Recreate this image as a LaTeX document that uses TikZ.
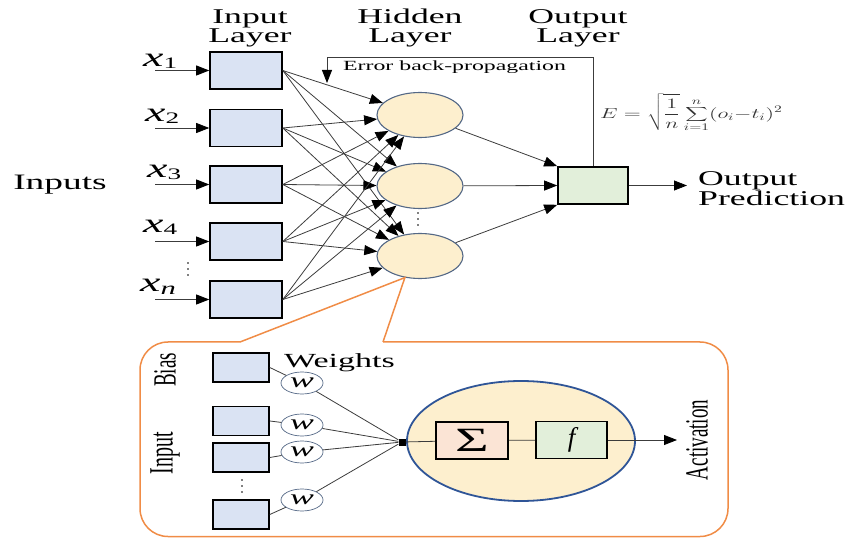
\documentclass[tikz,border=0pt]{standalone}
\usepackage{fontspec}
\usepackage{graphicx}
\setmainfont{Liberation Serif}[FakeStretch=1.7]
\newfontfamily\narrowserif{Liberation Serif}
\usetikzlibrary{arrows.meta,shapes.geometric,calc}

\definecolor{inblue}{RGB}{218,227,243}
\definecolor{hidfill}{RGB}{253,239,206}
\definecolor{hidedge}{RGB}{84,104,134}
\definecolor{outgreen}{RGB}{226,239,218}
\definecolor{sigfill}{RGB}{251,228,213}
\definecolor{bigedge}{RGB}{47,85,151}
\definecolor{calloutorange}{RGB}{240,140,70}
\definecolor{linkgray}{RGB}{60,60,60}

\newcommand{\fs}[1]{\fontsize{#1}{#1}\selectfont}
\newcommand{\rottext}[2]{\scalebox{1}[1.7]{\narrowserif\fs{#1}#2}}

\begin{document}
\begin{tikzpicture}[x=1pt,y=-1pt,
  inbox/.style={draw=black, line width=1.6pt, fill=inblue,
    minimum width=72pt, minimum height=37pt, inner sep=0pt},
  smallbox/.style={draw=black, line width=1.6pt, fill=inblue,
    minimum width=56pt, minimum height=29pt, inner sep=0pt},
  hid/.style={ellipse, draw=hidedge, line width=1.1pt, fill=hidfill,
    minimum width=86pt, minimum height=45pt, inner sep=0pt},
  outbox/.style={draw=black, line width=1.6pt, fill=outgreen,
    minimum width=70pt, minimum height=37pt, inner sep=0pt},
  wnode/.style={ellipse, draw=hidedge, line width=0.7pt, fill=white,
    minimum width=42pt, minimum height=22pt, inner sep=0pt,
    font=\fs{21}\itshape},
  link/.style={draw=linkgray, line width=0.8pt,
    -{Triangle[length=13pt,width=10pt,color=black]}},
  plain/.style={draw=linkgray, line width=0.8pt},
  title/.style={align=center, font=\fs{21}},
  callout/.style={draw=calloutorange, line width=1.5pt},
  dotv/.style={circle, fill=black, inner sep=0pt, minimum size=1.8pt}
]
\useasboundingbox (0,0) rectangle (847,540);

% ---------- layer titles ----------
\node[title] (tin)  at (250,28) {Input\\[-2pt]Layer};
\node[title] (thid) at (410,28) {Hidden\\[-2pt]Layer};
\node[title] (tout) at (578,28) {Output\\[-2pt]Layer};
\node[font=\fs{22}] (inputs) at (60,185) {Inputs};

% ---------- input layer ----------
\node[inbox] (in1) at (246,70.5)  {};
\node[inbox] (in2) at (246,128)   {};
\node[inbox] (in3) at (246,184.5) {};
\node[inbox] (in4) at (246,241.5) {};
\node[inbox] (in5) at (246,299.5) {};

\foreach \i/\yy in {1/70.5,2/128,3/184.5,4/241.5,5/299.5}{
  \coordinate (s\i) at (155,\yy);
  \draw[link] (s\i) -- (in\i.west);
}
\node[anchor=base west, inner sep=0pt] (lx1) at (143,67)
  {{\fs{27}\itshape x}\raisebox{-2pt}{\fs{16}1}};
\node[anchor=base west, inner sep=0pt] (lx2) at (145,122)
  {{\fs{27}\itshape x}\raisebox{-2pt}{\fs{16}2}};
\node[anchor=base west, inner sep=0pt] (lx3) at (147,178)
  {{\fs{27}\itshape x}\raisebox{-2pt}{\fs{16}3}};
\node[anchor=base west, inner sep=0pt] (lx4) at (143,233)
  {{\fs{27}\itshape x}\raisebox{-2pt}{\fs{16}4}};
\node[anchor=base west, inner sep=0pt] (lxn) at (140,292)
  {{\fs{27}\itshape x}\raisebox{-3pt}{\fs{18}\itshape n}};
\foreach \yy in {263,269,275}{ \node[dotv] at (188,\yy) {}; }

% ---------- hidden layer ----------
\node[hid] (h1) at (420,115) {};
\node[hid] (h2) at (420,186) {};
\node[hid] (h3) at (420,256) {};
\foreach \yy in {213,219,225}{ \node[dotv] at (418,\yy) {}; }

\foreach \i in {1,...,5}{
  \foreach \j in {1,2,3}{
    \draw[link] (in\i.east) -- (h\j);
  }
}

% ---------- output layer ----------
\node[outbox] (out) at (593,185.5) {};
\draw[link] (h1) -- (out.north west);
\draw[link] (h2) -- (out.west);
\draw[link] (h3) -- (out.south west);

\coordinate (pred) at (687,185.5);
\draw[link] (out.east) -- (pred);
\node[anchor=west, align=left, font=\fs{21}, inner sep=0pt] (predtxt) at (698,189)
  {Output\\[-1pt]Prediction};

% error back-propagation path
\coordinate (bpcorner) at (327,57);
\coordinate (bpend) at (327,83);
\draw[link] (out.north) |- (bpcorner) -- (bpend);
\node[anchor=base west, font=\fs{14}, inner sep=0pt] (bptxt) at (343,71)
  {Error back-propagation};

% error formula
\node[anchor=west, inner sep=0pt, text=black!80] (eq) at (600,113)
  {\scalebox{1.55}[1]{\fs{14}$\displaystyle E=\sqrt{\frac{1}{n}}\sum_{i=1}^{n}(o_{i}{-}t_{i})^{2}$}};

% ---------- neuron detail callout ----------
\coordinate (cL) at (240,342);
\coordinate (cR) at (383,342);
\draw[callout] (cL) -- (h3.235) -- (cR);
\draw[callout, rounded corners=28pt] (cR) -- (728,342) -- (728,536.5)
  -- (140,536.5) -- (140,342) -- (cL);

\node[rotate=90] (biaslbl) at (165,370) {\rottext{19}{Bias}};
\node[rotate=90] (inlbl) at (165,453) {\rottext{20}{Input}};
\node[rotate=90] (actlbl) at (697,440) {\rottext{19}{Activation}};
\node[anchor=base west, font=\fs{20}, inner sep=0pt] (wtxt) at (284,368) {Weights};

\node[smallbox] (bias) at (241,367.5) {};
\node[smallbox] (ia)   at (241,421)   {};
\node[smallbox] (ib)   at (241,457.5) {};
\node[smallbox] (ic)   at (241,514.5) {};
\foreach \yy in {480,486,492}{ \node[dotv] at (242,\yy) {}; }

% summation / activation unit
\node[ellipse, draw=bigedge, line width=1.8pt, fill=hidfill,
  minimum width=228pt, minimum height=120pt, inner sep=0pt] (cell) at (521,441) {};
\node[fill=black, minimum size=7pt, inner sep=0pt] (junc) at (402,442) {};

\node[wnode] (w1) at (302,383) {w};
\node[wnode] (w2) at (302,425) {w};
\node[wnode] (w3) at (302,452) {w};
\node[wnode] (w4) at (302,500) {w};

\draw[plain] (bias.east) -- (w1);
\draw[plain] (ia.east) -- (w2);
\draw[plain] (ib.east) -- (w3);
\draw[plain] (ic.east) -- (w4);
\foreach \k in {1,...,4}{ \draw[plain] (w\k) -- (junc); }

\node[draw=black, line width=1.6pt, fill=sigfill, minimum width=72pt,
  minimum height=37pt, inner sep=0pt, font=\fs{34}] (sig) at (472,440.5) {Σ};
\node[draw=black, line width=1.6pt, fill=outgreen, minimum width=71pt,
  minimum height=37pt, inner sep=0pt, font=\narrowserif\fs{27}\itshape]
  (fbox) at (571.5,440) {f};

\coordinate (actend) at (677,440);
\draw[plain] (junc) -- (sig);
\draw[plain] (sig) -- (fbox);
\draw[link] (fbox.east) -- (actend);
\end{tikzpicture}
\end{document}
